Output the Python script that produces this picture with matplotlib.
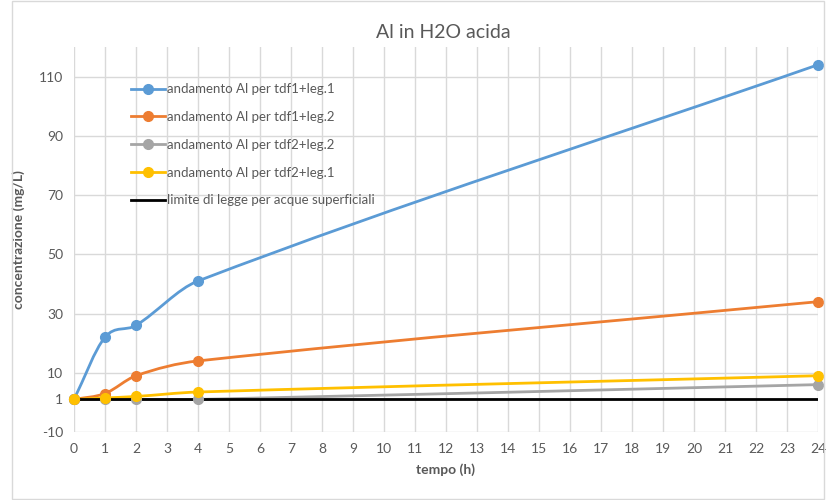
import numpy as np
import matplotlib
matplotlib.use('Agg')
from matplotlib import pyplot as plt
from matplotlib.path import Path
from matplotlib.patches import PathPatch
from matplotlib.lines import Line2D

# Data.
tempo = [0, 1, 2, 4, 24]
al_tdf1_leg1 = [1, 22, 26, 41, 114]
al_tdf1_leg2 = [1, 3, 9, 14, 34]
al_tdf2_leg2 = [1, 1, 1, 1, 6]
al_tdf2_leg1 = [1, 1.5, 2, 3.5, 9]
limite = [1, 1, 1, 1, 1]

labels = ['andamento Al per tdf1+leg.1', 'andamento Al per tdf1+leg.2',
          'andamento Al per tdf2+leg.2', 'andamento Al per tdf2+leg.1',
          'limite di legge per acque superficiali']
colors = ['#5B9BD5', '#ED7D31', '#A5A5A5', '#FFC000', '#000000']
y_ticks = [-10, 1, 10, 30, 50, 70, 90, 110]
x_ticks = list(range(0, 25))

plt.rcParams['font.family'] = ['Lato', 'DejaVu Sans']
plt.rcParams['axes.unicode_minus'] = False
grey_text = '#595959'


def smooth_path(x, y):
    """Cubic Hermite curve through the points, as bezier path."""
    x = np.asarray(x, float)
    y = np.asarray(y, float)
    n = len(x)
    m = np.zeros(n)
    for i in range(n):
        if i == 0:
            m[i] = (y[1] - y[0]) / (x[1] - x[0])
        elif i == n - 1:
            m[i] = (y[-1] - y[-2]) / (x[-1] - x[-2])
        else:
            m[i] = (y[i + 1] - y[i - 1]) / (x[i + 1] - x[i - 1])
    verts = [(x[0], y[0])]
    codes = [Path.MOVETO]
    for i in range(n - 1):
        h = x[i + 1] - x[i]
        verts += [(x[i] + h / 3, y[i] + m[i] * h / 3),
                  (x[i + 1] - h / 3, y[i + 1] - m[i + 1] * h / 3),
                  (x[i + 1], y[i + 1])]
        codes += [Path.CURVE4] * 3
    return Path(verts, codes)


fig = plt.figure(dpi=100, figsize=(8.26, 5))
ax = fig.add_axes([74 / 826, 1 - 432 / 500, 744 / 826, 385 / 500])

series = [al_tdf1_leg1, al_tdf1_leg2, al_tdf2_leg2, al_tdf2_leg1]
handles = []
for vals, c, lab in zip(series, colors[:4], labels[:4]):
    ax.add_patch(PathPatch(smooth_path(tempo, vals), facecolor='none',
                           edgecolor=c, lw=2.0, zorder=3, capstyle='round'))
    ax.plot(tempo, vals, linestyle='none', marker='o', ms=7,
            color=c, zorder=5, clip_on=False)
    handles.append(Line2D([], [], color=c, lw=2.0, marker='o', ms=7))

ax.plot([tempo[0], tempo[-1]], [limite[0], limite[-1]], color='black',
        lw=2.0, zorder=4)
handles.append(Line2D([], [], color='black', lw=2.0))

ax.set_xlim(0, 24)
ax.set_ylim(-10, 120)
ax.set_xticks(x_ticks)
ax.set_yticks(y_ticks)
ax.grid(True, color='#D9D9D9', lw=1)
ax.set_axisbelow(True)
for s in ax.spines.values():
    s.set_visible(False)
ax.tick_params(axis='both', length=0, labelsize=10, colors=grey_text, pad=8)

ax.set_xlabel('tempo (h)', fontsize=10, fontweight='bold', color=grey_text,
              labelpad=6)
ax.set_ylabel('concentrazione (mg/L)', fontsize=10, fontweight='bold',
              color=grey_text, labelpad=10)
fig.text(0.537, 0.936, 'Al in H2O acida', ha='center', va='center',
         fontsize=14, color=grey_text)

leg = ax.legend(handles, labels, loc='upper left',
                bbox_to_anchor=(0.06, 0.937), frameon=False, fontsize=9.5,
                handlelength=2.6, labelspacing=1.2, handletextpad=0.2)
for t in leg.get_texts():
    t.set_color(grey_text)

# Chart border.
fig.patches.append(plt.Rectangle((12 / 826, 0.002), 812 / 826, 0.996,
                                 transform=fig.transFigure, fill=False,
                                 edgecolor='#D9D9D9', lw=1))

plt.savefig('out.png')
